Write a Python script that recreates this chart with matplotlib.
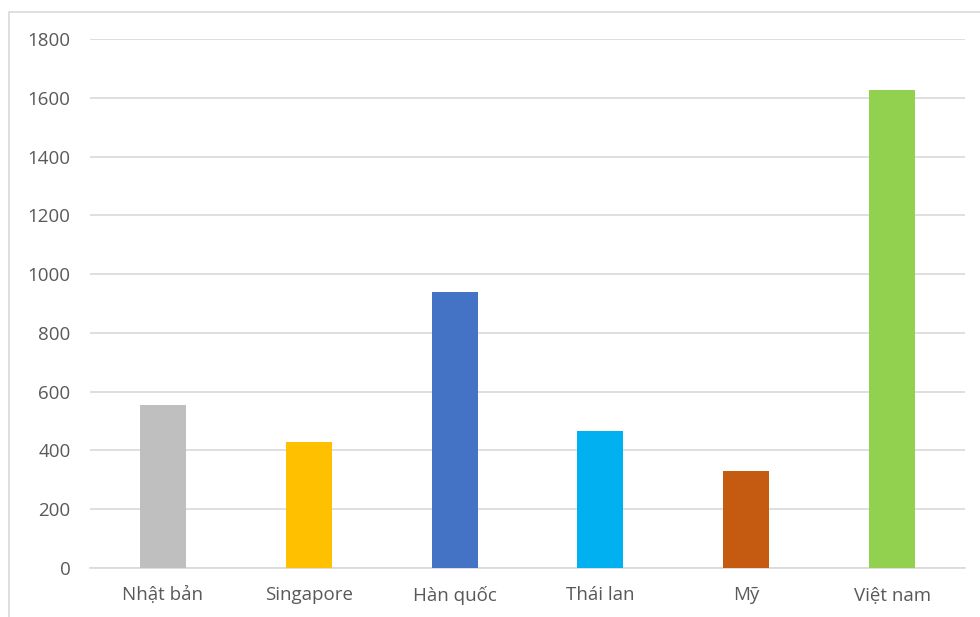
import matplotlib.pyplot as plt
from matplotlib.patches import Rectangle

# Dữ liệu
countries = ["Nhật bản", "Singapore", "Hàn quốc", "Thái lan", "Mỹ", "Việt nam"]
values = [555, 430, 940, 465, 330, 1625]
colors = ["#BFBFBF", "#FFC000", "#4472C4", "#00B0F0", "#C55A11", "#92D050"]

plt.rcParams['font.family'] = ['Open Sans', 'DejaVu Sans']

fig = plt.figure(figsize=(9.8, 6.17), dpi=100)
ax = fig.add_axes([0.0918, 0.0794, 0.8929, 0.8574])

x = range(len(countries))
ax.bar(x, values, width=0.316, color=colors, zorder=3)

ax.set_xlim(-0.5, len(countries) - 0.5)
ax.set_ylim(0, 1800)
ax.set_yticks(range(0, 1801, 200))
ax.set_xticks(list(x))
ax.set_xticklabels(countries)

ax.grid(axis='y', color='#D9D9D9', linewidth=1.2, zorder=0)
for s in ['top', 'right', 'left']:
    ax.spines[s].set_visible(False)
ax.spines['bottom'].set_color('#D9D9D9')
ax.spines['bottom'].set_linewidth(1.2)

ax.tick_params(axis='both', length=0, colors='#595959', labelsize=13.5)
ax.tick_params(axis='y', pad=14)
ax.tick_params(axis='x', pad=13)

# Khung ngoài
fig.patches.append(Rectangle((9 / 980, -0.1), 1.2, 1.1 - 12 / 617,
                             transform=fig.transFigure, fill=False,
                             edgecolor='#D9D9D9', linewidth=1.2))

fig.savefig("out.png", dpi=100)
